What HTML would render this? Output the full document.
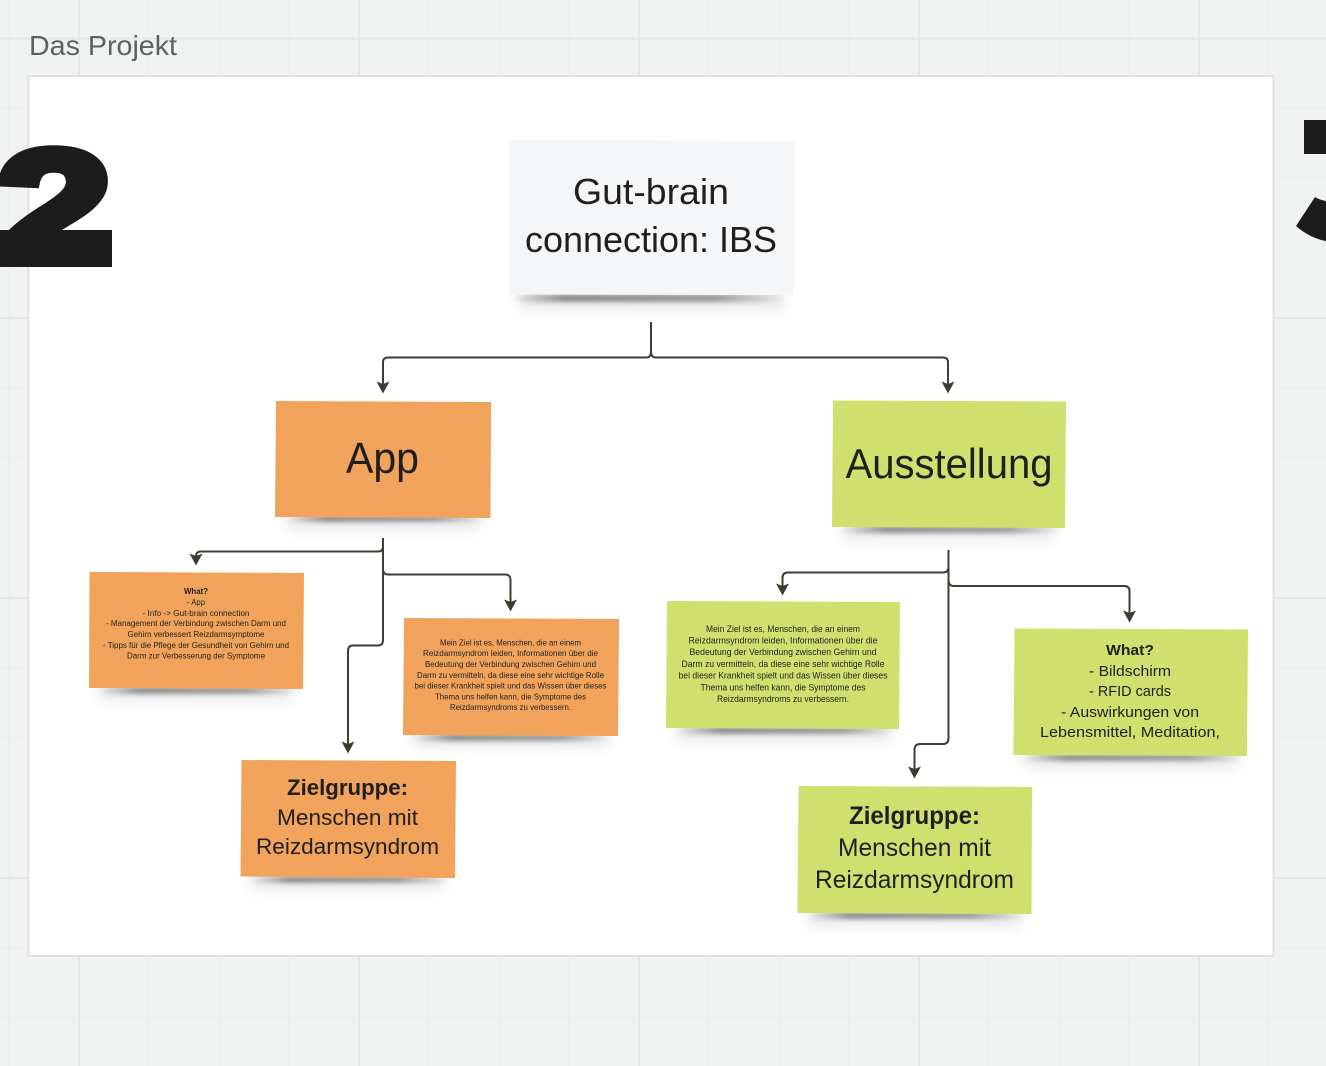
<!DOCTYPE html>
<html><head><meta charset="utf-8"><style>
html,body{margin:0;padding:0;background:#f1f3f3;width:1326px;height:1066px;overflow:hidden}
svg{display:block}
text{font-family:"Liberation Sans",sans-serif;fill:#1f1f1f;text-anchor:middle}
</style></head><body>
<svg width="1326" height="1066" viewBox="0 0 1326 1066" xmlns="http://www.w3.org/2000/svg">
<defs>
<filter id="b1" x="-30%" y="-200%" width="160%" height="500%"><feGaussianBlur stdDeviation="2.500"/></filter>
<filter id="b2" x="-30%" y="-200%" width="160%" height="500%"><feGaussianBlur stdDeviation="6"/></filter>
<linearGradient id="s"><stop offset="0" stop-color="#000" stop-opacity="0"/><stop offset=".2" stop-color="#000" stop-opacity=".42"/><stop offset=".75" stop-color="#000" stop-opacity=".36"/><stop offset="1" stop-color="#000" stop-opacity="0"/></linearGradient>
<clipPath id="c3"><rect x="1304" y="120" width="22" height="34"/><path d="M1296 226L1315 197Q1320 200 1326 201V241Q1310 238 1296 226Z"/></clipPath>
</defs>
<rect width="1326" height="1066" fill="#f1f3f3"/>
<g stroke="#ecedee" stroke-width="1" fill="none">
<path d="M9 0V1066M149 0V1066M219 0V1066M289 0V1066M429 0V1066M499 0V1066M569 0V1066M709 0V1066M779 0V1066M849 0V1066M989 0V1066M1059 0V1066M1129 0V1066M1269 0V1066"/>
<path d="M0 108H1326M0 178H1326M0 248H1326M0 388H1326M0 458H1326M0 528H1326M0 668H1326M0 738H1326M0 808H1326M0 948H1326M0 1018H1326"/>
</g>
<g stroke="#e7e8e9" stroke-width="2" fill="none">
<path d="M79 0V1066M359 0V1066M639 0V1066M919 0V1066M1199 0V1066"/>
<path d="M0 38.500H1326M0 318H1326M0 598H1326M0 878H1326"/>
</g>
<text x="103" y="55" font-size="28" style="fill:#5f6161" textLength="148" lengthAdjust="spacingAndGlyphs">Das Projekt</text>
<rect x="28.500" y="76" width="1245" height="880" fill="#ffffff" stroke="#e1e2e3" stroke-width="2"/>

<!-- big numerals -->
<text x="54" y="262" font-size="160" font-weight="700" stroke="#1c1c1c" stroke-width="10" style="fill:#1c1c1c" textLength="116" lengthAdjust="spacingAndGlyphs">2</text>
<rect x="0" y="230" width="112" height="37" fill="#1c1c1c"/>
<rect x="1304" y="120" width="22" height="34" fill="#1c1c1c"/>
<path d="M1296 226L1315 197Q1320 200 1326 201V241Q1310 238 1296 226Z" fill="#1c1c1c"/>
<text x="1345" y="262" font-size="180" font-weight="700" clip-path="url(#c3)" style="fill:#1c1c1c">3</text>

<!-- shadows -->
<g fill="#000">
<rect x="520" y="292" width="265" height="18" opacity=".08" filter="url(#b2)"/>
<rect x="510" y="294" width="275" height="8" fill="url(#s)" filter="url(#b1)"/>
<rect x="285" y="515" width="195" height="15" opacity=".08" filter="url(#b2)"/>
<rect x="285" y="515" width="200" height="7" fill="url(#s)" filter="url(#b1)"/>
<rect x="842" y="525" width="212" height="16" opacity=".08" filter="url(#b2)"/>
<rect x="840" y="526" width="222" height="7" fill="url(#s)" filter="url(#b1)"/>
<rect x="98" y="686" width="195" height="15" opacity=".08" filter="url(#b2)"/>
<rect x="98" y="687" width="200" height="7" fill="url(#s)" filter="url(#b1)"/>
<rect x="412" y="733" width="196" height="15" opacity=".08" filter="url(#b2)"/>
<rect x="412" y="734" width="200" height="7" fill="url(#s)" filter="url(#b1)"/>
<rect x="250" y="875" width="195" height="15" opacity=".08" filter="url(#b2)"/>
<rect x="250" y="876" width="200" height="7" fill="url(#s)" filter="url(#b1)"/>
<rect x="676" y="726" width="214" height="16" opacity=".08" filter="url(#b2)"/>
<rect x="675" y="727" width="222" height="7" fill="url(#s)" filter="url(#b1)"/>
<rect x="1024" y="753" width="214" height="16" opacity=".08" filter="url(#b2)"/>
<rect x="1022" y="754" width="222" height="7" fill="url(#s)" filter="url(#b1)"/>
<rect x="808" y="911" width="214" height="16" opacity=".08" filter="url(#b2)"/>
<rect x="806" y="912" width="220" height="7" fill="url(#s)" filter="url(#b1)"/>
</g>

<!-- notes -->
<polygon points="509.500,140 795,141 794,295 509,294.500" fill="#f5f6f8"/>
<polygon points="276,401 491,402 490.500,518 275,517" fill="#f1a35b"/>
<polygon points="833,400.500 1066,401.500 1065,528 832,527" fill="#d0e06e"/>
<polygon points="89.500,572 304,573 303,689 89,688" fill="#f1a35b"/>
<polygon points="404,618 619,619 618,736 403,735" fill="#f1a35b"/>
<polygon points="241.500,760 456,761 455,878 240.500,876.500" fill="#f1a35b"/>
<polygon points="667,601 900,602 899,729 666,728" fill="#d0e06e"/>
<polygon points="1014.500,628.500 1248,629.500 1247,756 1013.500,755" fill="#d0e06e"/>
<polygon points="798.500,786 1032,787 1031.500,914 797.500,913" fill="#d0e06e"/>

<!-- connectors -->
<g fill="none" stroke="#3f3d33" stroke-width="2">
<path d="M651 322V352Q651 357.500 646 357.500H388Q383 357.500 383 362.500V386"/>
<path d="M651 352Q651 357.500 656 357.500H943Q948 357.500 948 362.500V386"/>
<path d="M383 538V547Q383 551.500 378 551.500H201Q196 551.500 196 556.500V558"/>
<path d="M383 569Q383 574.500 388 574.500H505Q510.500 574.500 510.500 580V604"/>
<path d="M383 538V640Q383 645.500 378 645.500H353Q348 645.500 348 651V746"/>
<path d="M948.500 550V567Q948.500 572.500 943 572.500H788Q782.500 572.500 782.500 578V588"/>
<path d="M948.500 580Q948.500 586 954 586H1124Q1129.500 586 1129.500 591V615"/>
<path d="M948.500 550V738Q948.500 744 943 744H920Q914.500 744 914.500 750V771"/>
</g>
<g fill="#3d3b32">
<path d="M383 393.500L376.500 381.500L383 384L389.500 381.500Z"/>
<path d="M948 393.500L941.500 381.500L948 384L954.500 381.500Z"/>
<path d="M196 565.500L189.500 553.500L196 556L202.500 553.500Z"/>
<path d="M510.500 611.500L504 599.500L510.500 602L517 599.500Z"/>
<path d="M348 753.500L341.500 741.500L348 744L354.500 741.500Z"/>
<path d="M782.500 595.500L776 583.500L782.500 586L789 583.500Z"/>
<path d="M1129.500 622.500L1123 610.500L1129.500 613L1136 610.500Z"/>
<path d="M914.500 778.500L908 766.500L914.500 769L921 766.500Z"/>
</g>

<!-- labels -->
<text x="651" y="204" font-size="36" textLength="156" lengthAdjust="spacingAndGlyphs">Gut-brain</text>
<text x="651" y="252" font-size="36" textLength="252" lengthAdjust="spacingAndGlyphs">connection: IBS</text>
<text x="382.500" y="473" font-size="44" textLength="73" lengthAdjust="spacingAndGlyphs">App</text>
<text x="949" y="478" font-size="42" textLength="207" lengthAdjust="spacingAndGlyphs">Ausstellung</text>

<g font-size="8">
<text x="196" y="594" font-weight="700" textLength="24" lengthAdjust="spacingAndGlyphs">What?</text>
<text x="196" y="605" textLength="18" lengthAdjust="spacingAndGlyphs">- App</text>
<text x="196" y="616" textLength="107" lengthAdjust="spacingAndGlyphs">- Info -&gt;  Gut-brain connection</text>
<text x="196" y="626" textLength="180" lengthAdjust="spacingAndGlyphs">- Management der Verbindung zwischen Darm und</text>
<text x="196" y="637" textLength="137" lengthAdjust="spacingAndGlyphs">Gehirn verbessert Reizdarmsymptome</text>
<text x="196" y="648" textLength="186" lengthAdjust="spacingAndGlyphs">- Tipps für die Pflege der Gesundheit von Gehirn und</text>
<text x="196" y="658.500" textLength="138" lengthAdjust="spacingAndGlyphs">Darm zur Verbesserung der Symptome</text>
<text x="510.500" y="645.500" textLength="141" lengthAdjust="spacingAndGlyphs">Mein Ziel ist es, Menschen, die an einem</text>
<text x="510.500" y="656" textLength="175" lengthAdjust="spacingAndGlyphs">Reizdarmsyndrom leiden, Informationen über die</text>
<text x="510.500" y="667" textLength="171" lengthAdjust="spacingAndGlyphs">Bedeutung der Verbindung zwischen Gehirn und</text>
<text x="510.500" y="678" textLength="187" lengthAdjust="spacingAndGlyphs">Darm zu vermitteln, da diese eine sehr wichtige Rolle</text>
<text x="510.500" y="688.500" textLength="192" lengthAdjust="spacingAndGlyphs">bei dieser Krankheit spielt und das Wissen über dieses</text>
<text x="510.500" y="699.500" textLength="151" lengthAdjust="spacingAndGlyphs">Thema uns helfen kann, die Symptome des</text>
<text x="510.500" y="710" textLength="121" lengthAdjust="spacingAndGlyphs">Reizdarmsyndroms zu verbessern.</text>
</g>
<g font-size="9">
<text x="783" y="632" textLength="154" lengthAdjust="spacingAndGlyphs">Mein Ziel ist es, Menschen, die an einem</text>
<text x="783" y="643.500" textLength="189" lengthAdjust="spacingAndGlyphs">Reizdarmsyndrom leiden, Informationen über die</text>
<text x="783" y="655" textLength="187" lengthAdjust="spacingAndGlyphs">Bedeutung der Verbindung zwischen Gehirn und</text>
<text x="783" y="667" textLength="203" lengthAdjust="spacingAndGlyphs">Darm zu vermitteln, da diese eine sehr wichtige Rolle</text>
<text x="783" y="678.500" textLength="209" lengthAdjust="spacingAndGlyphs">bei dieser Krankheit spielt und das Wissen über dieses</text>
<text x="783" y="690.500" textLength="165" lengthAdjust="spacingAndGlyphs">Thema uns helfen kann, die Symptome des</text>
<text x="783" y="702" textLength="132" lengthAdjust="spacingAndGlyphs">Reizdarmsyndroms zu verbessern.</text>
</g>
<g font-size="15">
<text x="1130" y="655" font-weight="700" textLength="48" lengthAdjust="spacingAndGlyphs">What?</text>
<text x="1130" y="676" textLength="82" lengthAdjust="spacingAndGlyphs">- Bildschirm</text>
<text x="1130" y="696" textLength="82" lengthAdjust="spacingAndGlyphs">- RFID cards</text>
<text x="1130" y="717" textLength="138" lengthAdjust="spacingAndGlyphs">- Auswirkungen von</text>
<text x="1130" y="737" textLength="180" lengthAdjust="spacingAndGlyphs">Lebensmittel, Meditation,</text>
</g>
<g font-size="22">
<text x="347.500" y="795" font-weight="700" textLength="121" lengthAdjust="spacingAndGlyphs">Zielgruppe:</text>
<text x="347.500" y="825" textLength="141" lengthAdjust="spacingAndGlyphs">Menschen mit</text>
<text x="347.500" y="854" textLength="183" lengthAdjust="spacingAndGlyphs">Reizdarmsyndrom</text>
</g>
<g font-size="25">
<text x="914.500" y="824" font-weight="700" textLength="131" lengthAdjust="spacingAndGlyphs">Zielgruppe:</text>
<text x="914.500" y="856" textLength="153" lengthAdjust="spacingAndGlyphs">Menschen mit</text>
<text x="914.500" y="888" textLength="199" lengthAdjust="spacingAndGlyphs">Reizdarmsyndrom</text>
</g>
</svg>
</body></html>
